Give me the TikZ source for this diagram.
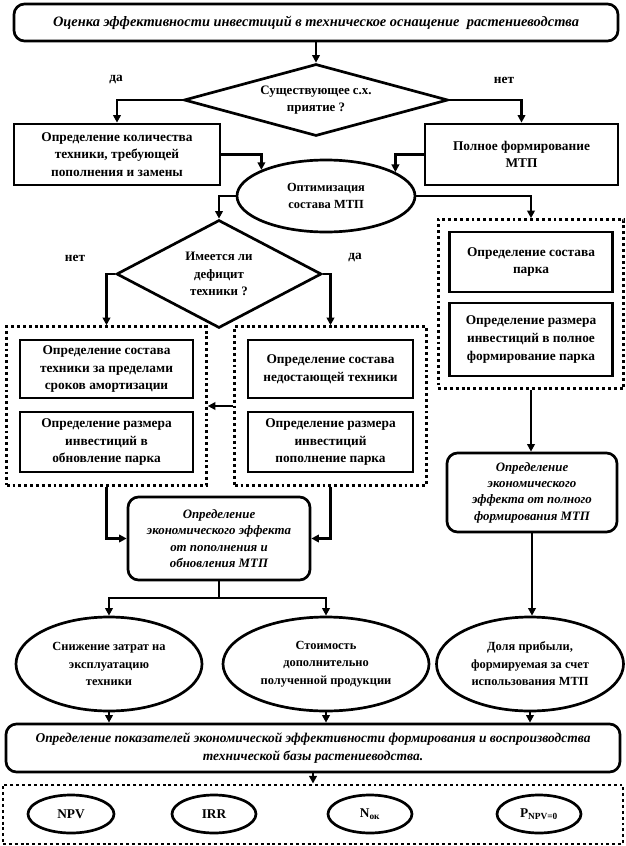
\documentclass[tikz,border=0pt]{standalone}
\usepackage{fontspec}
\setmainfont{Liberation Serif}
\usetikzlibrary{shapes.geometric,arrows.meta,fit,positioning}
\newcommand{\blkfont}{\fontsize{11.4}{15}\selectfont\bfseries}
\newcommand{\ovalfont}{\fontsize{10.6}{15}\selectfont\bfseries}
\newcommand{\effont}{\fontsize{11}{14}\selectfont\bfseries\itshape}

\begin{document}
\begin{tikzpicture}[x=0.03cm, y=-0.03cm,
  sz/.style 2 args={minimum width=#1*0.03cm, minimum height=#2*0.03cm},
  blk/.style={draw, line width=2.3pt, inner sep=2pt, align=center, font=\blkfont},
  rblk/.style={blk, rounded corners=9pt, font=\effont},
  oval/.style={draw, ellipse, line width=2.3pt, inner sep=0pt, align=center, font=\ovalfont},
  dec/.style={draw, diamond, line width=2.3pt, inner sep=0pt, align=center,
    font=\fontsize{11}{15}\selectfont\bfseries},
  grp/.style={draw, line width=2.5pt, dash pattern=on 2.5pt off 2.5pt, inner sep=12*0.03cm},
  lbl/.style={font=\blkfont},
  arr/.style={-{Triangle[length=6.5pt, width=6.5pt]}, line width=2.1pt},
  lnk/.style={line width=2.1pt},
]
  \useasboundingbox (0,0) rectangle (626,846);

  \node[rblk, sz={604}{37}, font=\effont\fontsize{12.3}{14}\selectfont] (goal) at (316,22.5)
    {Оценка эффективности инвестиций в техническое оснащение \ растениеводства};
  \node[dec, sz={264}{72}, aspect=3.67] (exist) at (316,100) {Существующее с.х.\\приятие ?};
  \node[lbl] (yes1) at (116,80) {да};
  \node[lbl] (no1) at (504,80) {нет};

  \node[blk, sz={206}{61}] (need) at (117,154.5)
    {Определение количества\\техники, требующей\\пополнения и замены};
  \node[blk, sz={193}{61}] (full) at (521.5,154.5) {Полное формирование\\МТП};
  \node[oval, sz={178}{72}] (opt) at (326,196) {Оптимизация\\состава МТП};

  \node[dec, sz={205}{108}, aspect=1.9] (deficit) at (219,274) {Имеется ли\\дефицит\\техники ?};
  \node[lbl] (no2) at (75,258) {нет};
  \node[lbl] (yes2) at (355,258) {да};

  % left group
  \node[blk, sz={173}{58}] (oldset) at (106.5,369)
    {Определение состава\\техники за пределами\\сроков амортизации};
  \node[blk, sz={173}{60}] (oldinv) at (106.5,442)
    {Определение размера\\инвестиций в\\обновление парка};
  \node[grp, fit=(oldset)(oldinv)] (oldgrp) {};

  % middle group
  \node[blk, sz={165}{58}] (lackset) at (330.5,369)
    {Определение состава\\недостающей техники};
  \node[blk, sz={165}{60}] (lackinv) at (330.5,442)
    {Определение размера\\инвестиций\\пополнение парка};
  \node[grp, fit=(lackset)(lackinv)] (lackgrp) {};

  % right group
  \node[blk, sz={163}{60}] (parkset) at (531,262) {Определение состава\\парка};
  \node[blk, sz={163}{73}] (parkinv) at (531,339.5)
    {Определение размера\\инвестиций в полное\\формирование парка};
  \node[grp, fit=(parkset)(parkinv), inner xsep=10*0.03cm, inner ysep=11*0.03cm] (parkgrp) {};

  \node[rblk, sz={182}{83}] (effupd) at (219,538.5)
    {Определение\\экономического эффекта\\от пополнения и\\обновления МТП};
  \node[rblk, sz={170}{79}] (efffull) at (532,492.5)
    {Определение\\экономического\\эффекта от полного\\формирования МТП};

  \node[oval, sz={186}{94}] (cost) at (109,664)
    {Снижение затрат на\\эксплуатацию\\техники};
  \node[oval, sz={206}{94}] (prod) at (326,664)
    {Стоимость\\дополнительно\\полученной продукции};
  \node[oval, sz={187}{94}] (profit) at (530,664)
    {Доля прибыли,\\формируемая за счет\\использования МТП};

  \node[rblk, sz={614}{48}, font=\effont\fontsize{11.5}{15}\selectfont] (index) at (313,748)
    {Определение показателей экономической эффективности формирования и воспроизводства\\технической базы растениеводства.};

  \node[grp, sz={620}{59}] (idxgrp) at (313,814.5) {};
  \node[oval, sz={86}{38}, font=\blkfont] (npv) at (71,814) {NPV};
  \node[oval, sz={84}{38}, font=\blkfont] (irr) at (214,814) {IRR};
  \node[oval, sz={84}{38}, font=\blkfont] (nok) at (370,814) {N\textsubscript{ок}};
  \node[oval, sz={84}{38}, font=\blkfont] (pnpv) at (539,814) {P\textsubscript{NPV=0}};

  \draw[arr] (goal.south) -- (exist.north);
  \draw[arr] (exist.west) -| (need.north);
  \draw[arr] (exist.east) -| (full.north);
  \draw[arr] (need.east) -| (opt.158);
  \draw[arr] (full.west) -| (opt.19);
  \draw[arr] (opt.west) -| (deficit.north);
  \draw[arr] (opt.east) -| (parkgrp.north);
  \draw[arr] (deficit.west) -| (oldgrp.north);
  \draw[arr] (deficit.east) -| (lackgrp.north);
  \draw[arr] (lackgrp.west) -- (oldgrp.east);
  \draw[arr] (oldgrp.south) |- (effupd.west);
  \draw[arr] (lackgrp.south) |- (effupd.east);
  \coordinate (fork) at (219,598);
  \draw[lnk] (effupd.south) -- (fork);
  \draw[arr] (fork) -| (cost.north);
  \draw[arr] (fork) -| (prod.north);
  \draw[arr] (parkgrp.south) -- (parkgrp.south |- efffull.north);
  \draw[arr] (efffull.south) -- (efffull.south |- profit.north);
  \draw[arr] (cost.south) -- (cost.south |- index.north);
  \draw[arr] (prod.south) -- (prod.south |- index.north);
  \draw[arr] (profit.south) -- (profit.south |- index.north);
  \draw[arr] (index.south) -- (idxgrp.north);
\end{tikzpicture}
\end{document}
